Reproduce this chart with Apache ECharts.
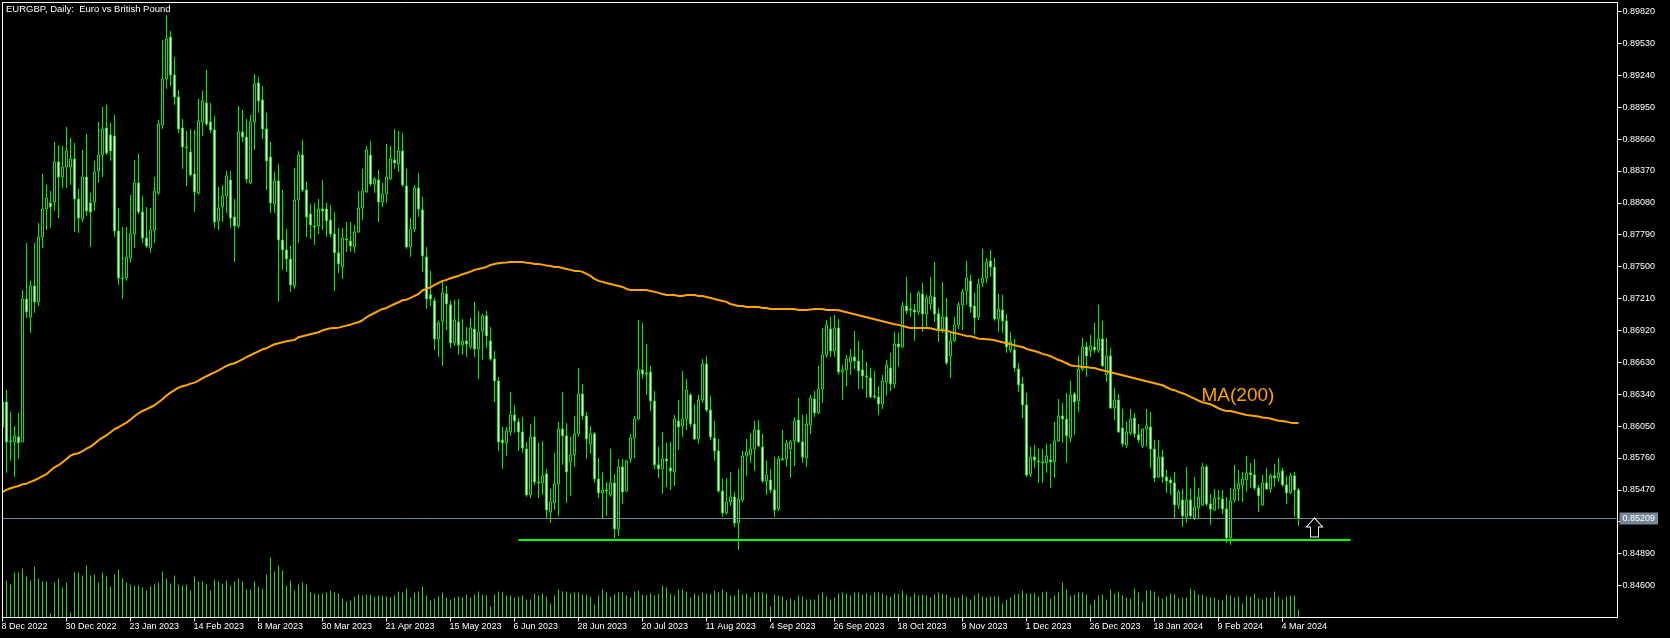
<!DOCTYPE html>
<html><head><meta charset="utf-8"><style>html,body{margin:0;padding:0;background:#000}#c{width:1670px;height:638px}</style>
<script src="https://cdn.jsdelivr.net/npm/echarts@6/dist/echarts.min.js"></script></head><body><div id="c"></div>
<script>
const titleText = 'EURGBP, Daily:  Euro vs British Pound';
const dateLabels = ['8 Dec 2022','30 Dec 2022','23 Jan 2023','14 Feb 2023','8 Mar 2023','30 Mar 2023','21 Apr 2023','15 May 2023','6 Jun 2023','28 Jun 2023','20 Jul 2023','11 Aug 2023','4 Sep 2023','26 Sep 2023','18 Oct 2023','9 Nov 2023','1 Dec 2023','26 Dec 2023','18 Jan 2024','9 Feb 2024','4 Mar 2024'];
const priceTicks = [0.846,0.8489,0.8518,0.8547,0.8576,0.8605,0.8634,0.8663,0.8692,0.8721,0.875,0.8779,0.8808,0.8837,0.8866,0.8895,0.8924,0.8953,0.8982];
const lastPrice = 0.85209, supportPrice = 0.85014, arrowPrice = 0.85128, maLabelPrice = 0.86324;
const opens = [0.86042,0.86269,0.85915,0.85906,0.85951,0.85906,0.87206,0.87042,0.87324,0.87179,0.8777,0.88024,0.88079,0.88088,0.88452,0.88315,0.88406,0.88406,0.88479,0.88115,0.87933,0.88315,0.88079,0.88088,0.8837,0.88515,0.88761,0.88697,0.88688,0.87824,0.87397,0.87397,0.87579,0.87797,0.88261,0.87997,0.87761,0.8767,0.87833,0.8817,0.88788,0.89207,0.89588,0.89243,0.89043,0.88761,0.88588,0.88543,0.88343,0.8817,0.88816,0.88988,0.88816,0.88743,0.87915,0.88042,0.88143,0.88288,0.87952,0.8787,0.88725,0.88679,0.88261,0.88816,0.8917,0.89016,0.88752,0.88497,0.8807,0.88279,0.87742,0.87652,0.8757,0.87324,0.88106,0.88515,0.88197,0.87979,0.8787,0.8787,0.88024,0.88024,0.87924,0.87797,0.87625,0.87497,0.87751,0.87733,0.87679,0.87815,0.88033,0.88179,0.88515,0.88252,0.88288,0.88088,0.88161,0.88297,0.8847,0.88434,0.88552,0.88233,0.87679,0.87842,0.88215,0.88015,0.87588,0.87243,0.87188,0.86842,0.87006,0.87252,0.87152,0.86806,0.86997,0.86788,0.86824,0.8677,0.86933,0.86751,0.86915,0.87052,0.86824,0.8666,0.8646,0.85924,0.85897,0.85997,0.86151,0.86087,0.85997,0.85842,0.85424,0.85951,0.85542,0.85533,0.85615,0.85269,0.85351,0.85524,0.86024,0.85961,0.85724,0.85788,0.85979,0.86342,0.86142,0.85888,0.85979,0.85569,0.85442,0.85469,0.85424,0.85533,0.85114,0.85678,0.8546,0.85751,0.85942,0.86114,0.8656,0.86533,0.86542,0.86278,0.85697,0.8566,0.85751,0.85669,0.85633,0.86096,0.86051,0.86114,0.86333,0.86069,0.85933,0.86287,0.86615,0.86196,0.85942,0.85824,0.8546,0.8526,0.8536,0.85405,0.85169,0.85378,0.85778,0.85788,0.85842,0.86015,0.8586,0.85551,0.8556,0.85469,0.85296,0.85751,0.85751,0.85842,0.85915,0.86105,0.85906,0.8576,0.8606,0.86296,0.86169,0.86387,0.86697,0.86933,0.86733,0.86942,0.86542,0.8656,0.86633,0.86679,0.86642,0.8656,0.86506,0.86488,0.86324,0.86314,0.86251,0.86451,0.86578,0.86433,0.86797,0.8677,0.87142,0.87115,0.87106,0.87088,0.87252,0.8707,0.87161,0.87224,0.8707,0.86933,0.87042,0.86688,0.86824,0.8697,0.87152,0.87279,0.8737,0.87142,0.87042,0.87352,0.87397,0.87552,0.87497,0.87024,0.87106,0.87006,0.86742,0.86742,0.86569,0.86433,0.86242,0.85615,0.85769,0.85733,0.85724,0.85715,0.85742,0.85724,0.85915,0.86142,0.86114,0.85942,0.86342,0.86278,0.86569,0.86769,0.86733,0.86769,0.86742,0.86842,0.86515,0.86688,0.86215,0.86287,0.86033,0.85878,0.85988,0.86123,0.8597,0.85869,0.86024,0.86042,0.85842,0.85587,0.85769,0.85587,0.8556,0.85533,0.85333,0.85378,0.85224,0.85378,0.85215,0.85306,0.85333,0.85678,0.85342,0.85287,0.85396,0.85387,0.85296,0.85032,0.85378,0.85478,0.85515,0.8556,0.85624,0.85606,0.85487,0.85333,0.85533,0.85478,0.85597,0.85578,0.85642,0.85515,0.85442,0.85597,0.85469];
const closes = [0.86269,0.85906,0.85906,0.85961,0.85897,0.87206,0.87088,0.87324,0.87179,0.8777,0.88024,0.88124,0.88042,0.88452,0.88315,0.88406,0.88552,0.88479,0.88115,0.87942,0.88315,0.88006,0.87997,0.88361,0.88515,0.88752,0.88534,0.88552,0.87824,0.87397,0.87388,0.87588,0.87797,0.88261,0.87997,0.87761,0.87688,0.87833,0.88188,0.88797,0.89207,0.8957,0.89243,0.89043,0.88752,0.88588,0.88579,0.88334,0.88179,0.88825,0.89007,0.88797,0.88743,0.87906,0.88033,0.88143,0.88325,0.87942,0.8787,0.88725,0.88679,0.88297,0.88816,0.89161,0.89007,0.88752,0.88461,0.88079,0.88279,0.87742,0.87652,0.8757,0.87333,0.88106,0.88515,0.88197,0.87951,0.87879,0.8786,0.88024,0.88006,0.87915,0.87797,0.87625,0.87524,0.87761,0.87742,0.87688,0.87815,0.88033,0.88188,0.88561,0.88252,0.88297,0.88088,0.88161,0.88315,0.88479,0.88443,0.88552,0.88243,0.87679,0.87842,0.88215,0.88024,0.87597,0.87206,0.87206,0.86842,0.86988,0.87261,0.87161,0.86806,0.87015,0.86788,0.86824,0.86797,0.86942,0.86751,0.86906,0.87052,0.8687,0.8666,0.8646,0.85906,0.85897,0.86006,0.86151,0.86096,0.85997,0.85851,0.85424,0.85951,0.85542,0.85533,0.85597,0.85287,0.8536,0.85524,0.86024,0.85961,0.85633,0.85788,0.85979,0.86342,0.86142,0.85933,0.85979,0.85569,0.85442,0.85469,0.8546,0.85533,0.85114,0.85678,0.85451,0.85733,0.85942,0.86114,0.8656,0.86524,0.86524,0.86278,0.85697,0.8566,0.85751,0.85733,0.85642,0.86114,0.86042,0.86114,0.86378,0.86069,0.85933,0.86287,0.86615,0.86196,0.85951,0.85824,0.8546,0.8526,0.8536,0.85405,0.85169,0.85387,0.85778,0.85815,0.85842,0.86015,0.85869,0.85551,0.85606,0.85469,0.85287,0.85751,0.85742,0.85897,0.85906,0.86096,0.85906,0.85769,0.86069,0.86305,0.86169,0.86387,0.86697,0.8697,0.86733,0.86942,0.86542,0.8656,0.8666,0.86679,0.86642,0.86551,0.86506,0.86497,0.86314,0.86314,0.86251,0.8646,0.86606,0.86433,0.86797,0.8677,0.87142,0.87097,0.87106,0.87088,0.87261,0.8707,0.87215,0.87234,0.8707,0.86933,0.87042,0.86624,0.86824,0.8697,0.87152,0.8727,0.87397,0.87133,0.87033,0.87342,0.87397,0.87543,0.87497,0.87024,0.87115,0.87006,0.8677,0.86815,0.86578,0.86424,0.86242,0.85605,0.85769,0.85742,0.85724,0.85715,0.85778,0.85724,0.85915,0.86142,0.86114,0.85961,0.86333,0.86269,0.86569,0.86769,0.86688,0.86779,0.86742,0.86842,0.86597,0.86688,0.86215,0.86287,0.85997,0.85888,0.85997,0.86114,0.85979,0.85924,0.86024,0.86051,0.85842,0.85578,0.85769,0.85587,0.85551,0.85533,0.85333,0.85451,0.85233,0.85378,0.85233,0.85315,0.85405,0.85678,0.85342,0.85296,0.85396,0.85387,0.85296,0.85032,0.85369,0.85478,0.85524,0.85569,0.85624,0.85606,0.85487,0.85415,0.85533,0.85478,0.85597,0.85578,0.85624,0.85515,0.85442,0.85597,0.85469,0.85209];
const highs = [0.86324,0.86378,0.86178,0.8605,0.86169,0.87288,0.87715,0.8737,0.87715,0.87897,0.88343,0.88243,0.88188,0.88634,0.88607,0.88598,0.8877,0.8867,0.88625,0.88206,0.88561,0.88707,0.8817,0.88461,0.88816,0.88952,0.88971,0.88807,0.8888,0.88033,0.8786,0.8786,0.88152,0.8847,0.88525,0.88143,0.88042,0.88033,0.88315,0.88834,0.89561,0.89788,0.89643,0.89406,0.89107,0.88843,0.88734,0.88752,0.88743,0.89025,0.89098,0.89288,0.88989,0.8887,0.88224,0.88243,0.8837,0.8837,0.88115,0.88961,0.88925,0.88843,0.8888,0.89252,0.89225,0.89143,0.88898,0.88634,0.88361,0.88434,0.88197,0.87842,0.87688,0.88397,0.88552,0.88652,0.8827,0.8807,0.88079,0.88115,0.88288,0.88079,0.88061,0.87997,0.87851,0.87851,0.87906,0.87906,0.87879,0.88188,0.88388,0.88598,0.88643,0.88315,0.88379,0.88261,0.88616,0.88598,0.88752,0.88734,0.88716,0.88388,0.87942,0.88243,0.88352,0.88133,0.87679,0.87461,0.87215,0.87006,0.87361,0.87324,0.87188,0.87197,0.87206,0.87024,0.86951,0.87033,0.87179,0.87097,0.8707,0.87097,0.86951,0.86733,0.86497,0.86042,0.86042,0.8636,0.86242,0.86123,0.86132,0.85906,0.86069,0.86132,0.85897,0.85915,0.8566,0.85478,0.85806,0.86087,0.8636,0.86078,0.85951,0.86142,0.86578,0.86433,0.86178,0.86051,0.85997,0.8576,0.85633,0.85542,0.85842,0.85615,0.85751,0.85751,0.85742,0.85979,0.86142,0.87015,0.86988,0.86797,0.86597,0.86369,0.85861,0.85997,0.85897,0.85906,0.86151,0.86287,0.86551,0.86478,0.86351,0.86251,0.86333,0.8666,0.86688,0.86324,0.86096,0.85933,0.85569,0.85578,0.85633,0.85451,0.8566,0.85824,0.85933,0.85988,0.86096,0.86105,0.85979,0.85733,0.8566,0.85769,0.85778,0.86015,0.85924,0.85924,0.86132,0.86305,0.86151,0.8616,0.86333,0.86369,0.86597,0.86942,0.87015,0.87042,0.8706,0.87024,0.86606,0.86697,0.86751,0.86915,0.86824,0.86742,0.86633,0.86578,0.86551,0.86415,0.86515,0.86651,0.86715,0.86906,0.86897,0.87179,0.87406,0.87261,0.87161,0.87279,0.87352,0.87243,0.87406,0.87543,0.87124,0.87361,0.87215,0.86906,0.87042,0.87179,0.87297,0.87552,0.87425,0.87261,0.87388,0.87661,0.87579,0.87652,0.87579,0.87252,0.87243,0.8707,0.86906,0.86842,0.86624,0.86497,0.86351,0.85861,0.85879,0.85842,0.85842,0.85888,0.85888,0.86087,0.86296,0.8626,0.86351,0.8646,0.8636,0.86688,0.86851,0.86815,0.86879,0.86988,0.87152,0.87006,0.86851,0.8676,0.86396,0.86342,0.86205,0.86087,0.86205,0.86169,0.86069,0.86024,0.86205,0.86178,0.85924,0.85924,0.85833,0.85651,0.85587,0.85633,0.85469,0.85478,0.85678,0.85478,0.85587,0.85487,0.85715,0.85697,0.85433,0.85478,0.85469,0.85469,0.85405,0.85487,0.85697,0.85651,0.85633,0.85778,0.85715,0.85751,0.85515,0.85606,0.85669,0.85615,0.85706,0.8576,0.85669,0.85597,0.85624,0.85633,0.85487];
const lows = [0.85997,0.85624,0.85733,0.85587,0.85751,0.85906,0.87033,0.86897,0.87079,0.87143,0.8767,0.87833,0.87851,0.88006,0.87942,0.88215,0.88215,0.88243,0.87815,0.87806,0.87906,0.87961,0.87679,0.88006,0.88261,0.88315,0.88515,0.88461,0.8777,0.87333,0.87206,0.8737,0.87534,0.8767,0.87979,0.87715,0.8767,0.87625,0.87715,0.88152,0.88752,0.89116,0.89143,0.8897,0.88716,0.88388,0.88233,0.88315,0.87997,0.88152,0.88688,0.88779,0.88716,0.87851,0.87833,0.87906,0.87988,0.87851,0.87543,0.87851,0.88634,0.88261,0.88252,0.88561,0.88898,0.88661,0.88197,0.87988,0.87988,0.87179,0.8747,0.87452,0.8727,0.87297,0.87715,0.88179,0.8777,0.87752,0.87697,0.87797,0.87833,0.8777,0.8777,0.87279,0.87443,0.87388,0.87634,0.87634,0.87625,0.87806,0.87924,0.8817,0.88233,0.8817,0.87906,0.88042,0.88079,0.88288,0.88388,0.88361,0.88224,0.87661,0.87588,0.87815,0.87951,0.87452,0.87115,0.87143,0.86742,0.86679,0.86597,0.86924,0.8676,0.86779,0.86697,0.86697,0.86679,0.86751,0.86679,0.86478,0.86651,0.8676,0.86642,0.86269,0.85824,0.8566,0.85778,0.8596,0.85988,0.85824,0.85806,0.85405,0.85396,0.85515,0.85396,0.85424,0.85215,0.85169,0.85287,0.85233,0.85697,0.85351,0.85415,0.85678,0.85951,0.86105,0.85751,0.85797,0.85533,0.85396,0.85205,0.85233,0.85405,0.85032,0.85051,0.85342,0.85451,0.85715,0.8576,0.86105,0.86478,0.86333,0.86187,0.8566,0.85578,0.85433,0.85496,0.85469,0.85505,0.85833,0.85951,0.86015,0.86042,0.85924,0.85888,0.8626,0.86178,0.85924,0.85733,0.85442,0.85224,0.85242,0.85324,0.85133,0.84923,0.8536,0.85597,0.85715,0.85642,0.85861,0.85533,0.85424,0.85442,0.85224,0.85278,0.85742,0.85678,0.85578,0.85688,0.85897,0.85715,0.85678,0.85979,0.86132,0.8616,0.8626,0.86669,0.86679,0.86679,0.86515,0.86287,0.86415,0.86515,0.8657,0.86387,0.86387,0.86305,0.86305,0.86296,0.86151,0.86205,0.86324,0.86369,0.86396,0.86588,0.8676,0.8707,0.87042,0.86824,0.8706,0.86906,0.86951,0.87106,0.86997,0.86815,0.86897,0.86606,0.86488,0.86815,0.86933,0.86924,0.87152,0.87079,0.86879,0.87015,0.87315,0.87352,0.87406,0.87006,0.86906,0.86897,0.86715,0.86715,0.86542,0.8636,0.86123,0.85587,0.85587,0.85669,0.85533,0.85533,0.85624,0.85487,0.85578,0.85906,0.85897,0.85715,0.85906,0.85969,0.86178,0.86551,0.86497,0.86679,0.86715,0.86715,0.86588,0.86451,0.86205,0.86105,0.85988,0.85861,0.85851,0.85969,0.85942,0.85897,0.85851,0.85861,0.85669,0.85542,0.85578,0.85533,0.85442,0.85424,0.85205,0.85296,0.85133,0.85169,0.85205,0.85196,0.85205,0.85324,0.85324,0.85151,0.85278,0.85296,0.85251,0.84987,0.84969,0.85351,0.85369,0.8536,0.85451,0.85487,0.85469,0.85269,0.85324,0.85469,0.85442,0.85496,0.85542,0.85496,0.85342,0.85433,0.85224,0.85142];
const ma200 = [0.85451,0.85469,0.85484,0.85496,0.85505,0.85521,0.85526,0.85542,0.85557,0.85575,0.85594,0.85612,0.85645,0.85675,0.85694,0.85721,0.85751,0.85781,0.85796,0.85803,0.85821,0.85845,0.85863,0.8589,0.85921,0.85945,0.85966,0.85994,0.86021,0.86039,0.8606,0.86081,0.86108,0.86139,0.86166,0.86187,0.86203,0.86221,0.86239,0.86266,0.86294,0.86327,0.86354,0.86376,0.86399,0.86412,0.86421,0.86436,0.86445,0.86463,0.86485,0.86503,0.86521,0.86539,0.86557,0.86576,0.86597,0.86612,0.86621,0.86639,0.86657,0.86676,0.86694,0.86712,0.8673,0.86748,0.86757,0.86776,0.86794,0.86803,0.86812,0.86821,0.86827,0.86833,0.86858,0.86867,0.86876,0.86885,0.86894,0.86903,0.86921,0.8693,0.86939,0.86942,0.86945,0.86954,0.86963,0.86972,0.86985,0.86994,0.87012,0.87039,0.8706,0.87078,0.87097,0.87115,0.87124,0.87142,0.8716,0.87176,0.87194,0.87199,0.87215,0.87233,0.87251,0.87285,0.87297,0.87312,0.87333,0.87351,0.8737,0.87379,0.87394,0.87406,0.87415,0.87431,0.87442,0.87454,0.8747,0.87479,0.87488,0.87497,0.87515,0.87524,0.8753,0.87536,0.87538,0.87542,0.87542,0.87542,0.87542,0.87536,0.87533,0.87524,0.87524,0.87518,0.87509,0.87506,0.87497,0.87497,0.87488,0.87479,0.8747,0.87461,0.87461,0.87452,0.87433,0.87415,0.87388,0.8737,0.87361,0.87351,0.87342,0.87333,0.87324,0.87315,0.87297,0.87288,0.87288,0.87288,0.87288,0.87288,0.87279,0.8727,0.87261,0.87251,0.87242,0.87242,0.87242,0.87233,0.87233,0.87242,0.87242,0.87242,0.87233,0.87233,0.87224,0.87215,0.87206,0.87197,0.87188,0.87179,0.8716,0.87151,0.87142,0.87142,0.87133,0.87133,0.87133,0.87133,0.87124,0.87124,0.87115,0.87115,0.87115,0.87115,0.87115,0.87115,0.87115,0.87106,0.87106,0.87106,0.8711,0.87115,0.87115,0.87115,0.87106,0.87106,0.87106,0.87103,0.87094,0.87085,0.87076,0.87067,0.87058,0.87049,0.87039,0.8703,0.87021,0.87012,0.87003,0.86994,0.86985,0.86976,0.8697,0.8696,0.86951,0.86942,0.86942,0.86942,0.86942,0.86942,0.86939,0.8693,0.86924,0.86921,0.86918,0.86906,0.86897,0.86888,0.86879,0.86869,0.86867,0.86858,0.86845,0.86842,0.86839,0.86836,0.8683,0.86821,0.86812,0.86803,0.86794,0.86785,0.86776,0.86769,0.86751,0.86742,0.86733,0.86721,0.86706,0.86697,0.86685,0.86667,0.86651,0.86639,0.86621,0.86603,0.86597,0.86594,0.86587,0.86587,0.86581,0.86578,0.86567,0.86557,0.86548,0.86539,0.8653,0.86521,0.86512,0.86503,0.86494,0.86485,0.86476,0.86467,0.86457,0.86448,0.86439,0.8643,0.86421,0.86403,0.86385,0.86376,0.8636,0.86348,0.86333,0.86315,0.86299,0.86281,0.86266,0.86257,0.86248,0.8623,0.86212,0.86196,0.86187,0.86187,0.86178,0.86169,0.8616,0.86151,0.86145,0.86142,0.86136,0.86127,0.86124,0.86118,0.86108,0.86099,0.86096,0.8609,0.86081,0.86078,0.86078];
const volumes = [36,37,33,45,45,49,41,37,51,39,36,36,4,35,39,30,35,5,45,45,42,52,42,43,35,45,41,31,43,48,39,35,33,32,32,30,27,31,33,35,46,39,34,42,33,32,33,27,41,36,36,33,27,38,36,34,37,32,36,39,36,28,28,36,31,29,43,60,46,52,47,32,37,27,33,35,33,25,24,23,24,25,27,25,24,19,16,17,21,23,22,23,23,21,22,22,21,20,22,26,25,29,20,25,26,31,22,17,19,21,25,20,18,20,21,20,23,20,23,26,23,22,11,23,26,25,22,22,20,21,22,18,18,24,22,24,21,14,22,28,26,26,24,25,25,23,23,21,13,22,28,25,21,23,25,25,22,20,26,27,23,22,24,22,24,32,30,24,22,28,28,26,20,24,22,25,24,23,27,25,28,25,22,22,28,23,24,20,25,25,25,24,11,23,22,21,17,19,17,22,21,18,18,18,23,25,21,18,20,24,25,24,22,25,25,23,24,22,25,25,24,22,21,24,24,27,23,21,24,22,23,22,20,23,25,24,23,20,20,20,23,21,18,22,24,21,20,21,21,21,14,18,20,23,24,27,24,24,24,21,25,26,19,22,25,35,28,22,23,25,25,23,13,18,22,23,18,28,24,26,22,20,19,29,25,16,27,27,26,21,19,21,24,23,19,20,20,29,27,23,23,21,20,20,18,17,23,22,20,21,14,22,21,24,19,18,20,20,26,21,18,21,22,22,8];

const SLOTS = 404, TICK_EVERY = 16, LAST_TICK = 320;
const categories = Array.from({length: SLOTS}, (_, i) => (i % TICK_EVERY === 0 && i <= LAST_TICK) ? dateLabels[i / TICK_EVERY] : '');
const isTick = i => i % TICK_EVERY === 0 && i <= LAST_TICK;
const candles = opens.map((o, i) => [o, closes[i], lows[i], highs[i]]);
const GREEN = '#00f000', FONT = '"Liberation Sans", Arial, sans-serif';

const chart = echarts.init(document.getElementById('c'), null, {renderer: 'canvas'});
chart.setOption({
  animation: false,
  backgroundColor: '#000',
  title: {text: titleText, left: 6, top: 4, padding: 0, textStyle: {color: '#fff', fontSize: 9.5, fontWeight: 'normal', fontFamily: FONT}},
  grid: {left: 0.5, top: 2.5, width: 1616, height: 615, outerBoundsMode: 'none'},
  xAxis: {
    type: 'category', data: categories, boundaryGap: true,
    axisLine: {show: true, lineStyle: {color: '#fff', width: 1}},
    axisTick: {show: true, alignWithLabel: true, length: 4, interval: i => isTick(i), lineStyle: {color: '#fff'}},
    axisLabel: {show: true, interval: i => isTick(i), align: 'left', color: '#fff', fontSize: 9, fontFamily: FONT, margin: 5, padding: [0, 0, 0, -1]},
    splitLine: {show: false}
  },
  yAxis: [{
    type: 'value', position: 'right', offset: 1, scale: true,
    min: 0.843089, max: 0.899018,
    axisLine: {show: true, lineStyle: {color: '#fff', width: 1}},
    axisTick: {show: true, length: 4, customValues: priceTicks, lineStyle: {color: '#fff'}},
    axisLabel: {show: true, customValues: priceTicks, formatter: v => v.toFixed(5), color: '#fff', fontSize: 9, fontFamily: FONT, margin: 5},
    splitLine: {show: false}
  }, {
    type: 'value', show: false, min: 0, max: 615, position: 'left', splitLine: {show: false}
  }],
  series: [{
    name: 'Volumes', type: 'bar', xAxisIndex: 0, yAxisIndex: 1, data: volumes, barWidth: 1,
    itemStyle: {color: '#32cd32'}, silent: true
  }, {
    name: 'Bid', type: 'line', xAxisIndex: 0, yAxisIndex: 0, data: closes, showSymbol: false, z: 1, silent: true,
    lineStyle: {width: 0, opacity: 0},
    markLine: {
      silent: true, symbol: 'none', animation: false, precision: 5,
      data: [{yAxis: lastPrice, lineStyle: {color: '#778899', width: 1, type: 'solid'},
        label: {show: true, position: 'end', distance: 3, formatter: lastPrice.toFixed(5), color: '#fff', backgroundColor: '#778899', fontSize: 9, fontFamily: FONT, padding: [2, 3, 1, 3]}}]
    }
  }, {
    name: 'EURGBP', type: 'candlestick', xAxisIndex: 0, yAxisIndex: 0, data: candles, barWidth: 2,
    itemStyle: {color: '#000', color0: '#fff', borderColor: GREEN, borderColor0: GREEN, borderWidth: 1},
    silent: true,
    markLine: {
      silent: true, symbol: 'none', animation: false, precision: 5,
      data: [
        [{coord: [129, supportPrice], lineStyle: {color: '#00ff00', width: 2, type: 'solid'}, label: {show: false}}, {coord: [337, supportPrice]}]
      ]
    },
    markPoint: {
      silent: true, animation: false,
      data: [{coord: [328, arrowPrice], symbol: 'path://M8 0 L16 9 L12 9 L12 19 L4 19 L4 9 L0 9 Z', symbolSize: [16, 19],
              itemStyle: {color: '#000', borderColor: '#fff', borderWidth: 1}, label: {show: false}}]
    }
  }, {
    name: 'MA(200)', type: 'line', xAxisIndex: 0, yAxisIndex: 0, data: ma200, showSymbol: false, smooth: false, z: 5,
    lineStyle: {color: '#ffa500', width: 2}, silent: true,
    markPoint: {
      silent: true, animation: false, symbol: 'circle', symbolSize: 0,
      data: [{coord: [300, maLabelPrice],
              label: {show: true, formatter: 'MA(200)', position: 'right', distance: -1, color: '#ffa500', fontSize: 19, fontFamily: FONT}}]
    }
  }],
  graphic: [
    {type: 'rect', z: 100, silent: true, shape: {x: 0, y: 0, width: 2, height: 638}, style: {fill: '#000'}},
    {type: 'rect', z: 101, silent: true, shape: {x: 2.5, y: 2.5, width: 1615, height: 615}, style: {fill: 'none', stroke: '#fff', lineWidth: 1}}
  ]
});
</script></body></html>
